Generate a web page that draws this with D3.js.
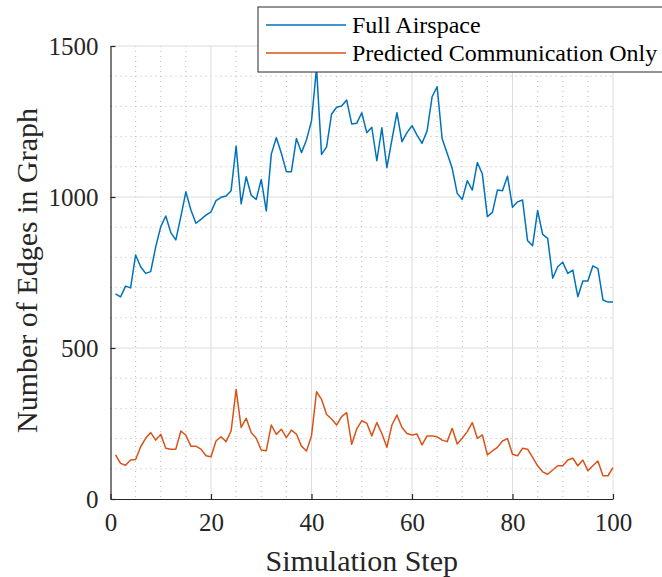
<!DOCTYPE html>
<html>
<head>
<meta charset="utf-8">
<script src="https://cdn.jsdelivr.net/npm/d3@7"></script>
<style>
  body { margin: 0; background: #fff; }
  text { font-family: "Liberation Serif", "Times New Roman", serif; }
</style>
</head>
<body>
<div id="chart"></div>
<script>
var svgWidth = 662;
var svgHeight = 577;

var margin = { top: 46, right: 49, bottom: 78, left: 110.5 };
var width = svgWidth - margin.left - margin.right;
var height = svgHeight - margin.top - margin.bottom;

// data
var steps = d3.range(1, 101);
var fullAirspace = [
  679, 669, 705, 699, 808, 769, 747, 753, 835, 902,
  937, 882, 858, 935, 1017, 957, 913, 926, 940, 951,
  988, 999, 1003, 1021, 1169, 977, 1067, 1006, 992, 1058,
  954, 1142, 1196, 1145, 1084, 1084, 1194, 1147, 1189, 1252,
  1427, 1141, 1166, 1275, 1297, 1301, 1321, 1242, 1244, 1279,
  1213, 1231, 1120, 1229, 1097, 1189, 1279, 1183, 1213, 1236,
  1205, 1178, 1219, 1332, 1365, 1193, 1145, 1095, 1012, 992,
  1054, 1023, 1114, 1076, 935, 949, 1023, 1021, 1069, 966,
  984, 990, 855, 839, 955, 876, 863, 731, 769, 784,
  747, 758, 670, 722, 722, 772, 763, 659, 652, 652
];
var predictedOnly = [
  146, 118, 112, 129, 131, 173, 201, 220, 195, 214,
  168, 165, 165, 225, 211, 175, 175, 165, 143, 140,
  192, 206, 190, 225, 363, 237, 267, 220, 201, 162,
  160, 245, 214, 231, 203, 228, 215, 175, 159, 209,
  355, 330, 280, 265, 245, 273, 286, 181, 232, 259,
  251, 209, 253, 217, 171, 245, 278, 237, 217, 212,
  215, 179, 209, 209, 206, 195, 190, 234, 182, 201,
  223, 253, 201, 212, 146, 159, 171, 192, 200, 148,
  143, 168, 165, 138, 110, 90, 82, 96, 110, 110,
  129, 135, 110, 129, 94, 110, 126, 77, 77, 104
];
var seriesNames = ["Full Airspace", "Predicted Communication Only"];
var seriesColors = ["#0072BD", "#D95319"];
var xTicks = [0, 20, 40, 60, 80, 100];
var yTicks = [0, 500, 1000, 1500];

var svg = d3.select("#chart").append("svg")
  .attr("width", svgWidth)
  .attr("height", svgHeight);

var chartGroup = svg.append("g")
  .attr("transform", `translate(${margin.left}, ${margin.top})`);

var xScale = d3.scaleLinear().domain([0, 100]).range([0, width]);
var yScale = d3.scaleLinear().domain([0, 1500]).range([height, 0]);

// minor grid (dotted)
chartGroup.append("g")
  .selectAll("line")
  .data(d3.range(5, 100, 5).filter(d => d % 20 !== 0))
  .enter().append("line")
  .attr("x1", d => xScale(d)).attr("x2", d => xScale(d))
  .attr("y1", 0).attr("y2", height)
  .attr("stroke", "#b8b8b8").attr("stroke-width", 1)
  .attr("stroke-dasharray", "1,4");

chartGroup.append("g")
  .selectAll("line")
  .data(d3.range(100, 1500, 100).filter(d => d % 500 !== 0))
  .enter().append("line")
  .attr("x1", 0).attr("x2", width)
  .attr("y1", d => yScale(d)).attr("y2", d => yScale(d))
  .attr("stroke", "#b8b8b8").attr("stroke-width", 1)
  .attr("stroke-dasharray", "1,4");

// major grid
chartGroup.append("g")
  .selectAll("line")
  .data(xTicks.slice(1))
  .enter().append("line")
  .attr("x1", d => xScale(d)).attr("x2", d => xScale(d))
  .attr("y1", 0).attr("y2", height)
  .attr("stroke", "#dcdcdc").attr("stroke-width", 1);

chartGroup.append("g")
  .selectAll("line")
  .data(yTicks.slice(1))
  .enter().append("line")
  .attr("x1", 0).attr("x2", width)
  .attr("y1", d => yScale(d)).attr("y2", d => yScale(d))
  .attr("stroke", "#dcdcdc").attr("stroke-width", 1);

// axes
var bottomAxis = d3.axisBottom(xScale).tickValues(xTicks).tickFormat(d3.format("d"))
  .tickSizeInner(-5).tickSizeOuter(0).tickPadding(14);
var leftAxis = d3.axisLeft(yScale).tickValues(yTicks).tickFormat(d3.format("d"))
  .tickSizeInner(-5).tickSizeOuter(0).tickPadding(12);

var xAxis = chartGroup.append("g")
  .attr("transform", `translate(0, ${height})`)
  .call(bottomAxis);
var yAxis = chartGroup.append("g").call(leftAxis);

[xAxis, yAxis].forEach(function (ax) {
  ax.selectAll("path, line").attr("stroke", "#262626").attr("stroke-width", 1.2);
  ax.selectAll("text")
    .attr("fill", "#262626")
    .style("font-size", "25px")
    .style("font-family", "'Liberation Serif', serif");
});

// lines
var seriesData = [fullAirspace, predictedOnly];
var line = d3.line()
  .x((d, i) => xScale(steps[i]))
  .y(d => yScale(d));

chartGroup.selectAll(".series")
  .data(seriesData)
  .enter().append("path")
  .attr("class", "series")
  .attr("d", line)
  .attr("fill", "none")
  .attr("stroke", (d, i) => seriesColors[i])
  .attr("stroke-width", 1.5)
  .attr("stroke-linejoin", "round");

// axis labels
svg.append("text")
  .attr("x", margin.left + width / 2)
  .attr("y", 571)
  .attr("text-anchor", "middle")
  .attr("fill", "#262626")
  .style("font-size", "30px")
  .text("Simulation Step");

svg.append("text")
  .attr("transform", `translate(37, ${margin.top + height / 2 - 2}) rotate(-90)`)
  .attr("text-anchor", "middle")
  .attr("fill", "#262626")
  .style("font-size", "30px")
  .text("Number of Edges in Graph");

// legend
var legend = svg.append("g").attr("transform", "translate(258, 7)");
legend.append("rect")
  .attr("width", 410).attr("height", 65)
  .attr("fill", "#fff")
  .attr("stroke", "#262626").attr("stroke-width", 1);

var items = legend.selectAll(".item")
  .data(seriesNames)
  .enter().append("g")
  .attr("transform", (d, i) => `translate(0, ${18 + i * 28})`);

items.append("line")
  .attr("x1", 8).attr("x2", 88)
  .attr("stroke", (d, i) => seriesColors[i])
  .attr("stroke-width", 1.5);

items.append("text")
  .attr("x", 94).attr("y", 8)
  .attr("fill", "#000")
  .style("font-size", "24px")
  .text(d => d);
</script>
</body>
</html>
